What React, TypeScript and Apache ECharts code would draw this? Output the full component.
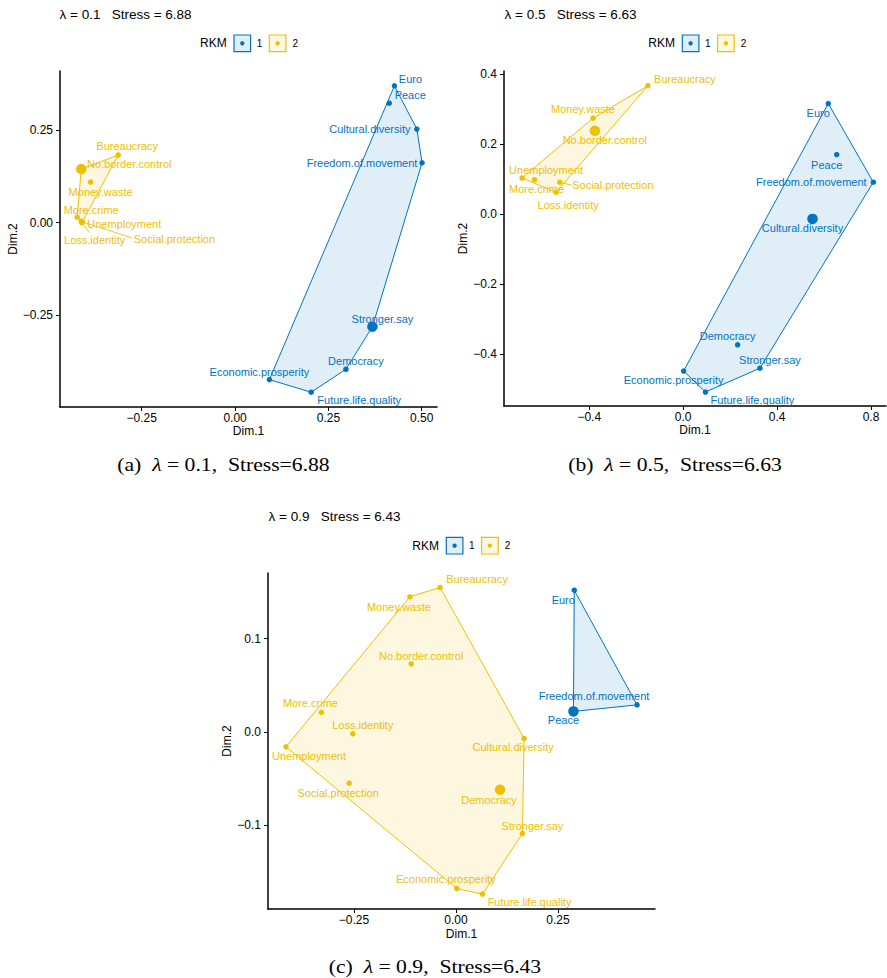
import React, { useEffect, useRef } from "react";
import * as echarts from "echarts";

const BLUE = "#0073C2";
const YELLOW = "#EFC000";
const BLUE_FILL = "rgba(0,115,194,0.12)";
const YELLOW_FILL = "rgba(239,192,0,0.12)";
const SANS = "'Liberation Sans', Arial, Helvetica, sans-serif";
const SERIF = "'Liberation Serif', 'Times New Roman', serif";

// ---- (a) lambda = 0.1 ----
const termsA1 = ["Euro", "Peace", "Cultural.diversity", "Freedom.of.movement", "Stronger.say", "Democracy", "Economic.prosperity", "Future.life.quality"];
const dim1A1 = [0.427, 0.413, 0.487, 0.501, 0.368, 0.297, 0.092, 0.204];
const dim2A1 = [0.370, 0.323, 0.253, 0.162, -0.281, -0.396, -0.424, -0.458];
const termsA2 = ["Bureaucracy", "No.border.control", "Money.waste", "More.crime", "Unemployment", "Loss.identity", "Social.protection"];
const dim1A2 = [-0.313, -0.412, -0.387, -0.423, -0.412, -0.411, -0.409];
const dim2A2 = [0.183, 0.145, 0.110, 0.015, 0.004, 0.000, 0.002];
const centreA1 = [0.368, -0.281];
const centreA2 = [-0.412, 0.145];
const xTicksA = [-0.25, 0, 0.25, 0.5];
const yTicksA = [-0.25, 0, 0.25];

// ---- (b) lambda = 0.5 ----
const termsB1 = ["Euro", "Peace", "Freedom.of.movement", "Cultural.diversity", "Democracy", "Stronger.say", "Economic.prosperity", "Future.life.quality"];
const dim1B1 = [0.618, 0.654, 0.810, 0.551, 0.232, 0.327, 0.002, 0.095];
const dim2B1 = [0.316, 0.170, 0.091, -0.014, -0.374, -0.441, -0.449, -0.509];
const termsB2 = ["Bureaucracy", "Money.waste", "No.border.control", "Unemployment", "More.crime", "Social.protection", "Loss.identity"];
const dim1B2 = [-0.150, -0.384, -0.376, -0.686, -0.633, -0.525, -0.541];
const dim2B2 = [0.367, 0.274, 0.238, 0.103, 0.098, 0.091, 0.062];
const centreB1 = [0.551, -0.014];
const centreB2 = [-0.376, 0.238];
const xTicksB = [-0.4, 0, 0.4, 0.8];
const yTicksB = [-0.4, -0.2, 0, 0.2, 0.4];

// ---- (c) lambda = 0.9 ----
const termsC1 = ["Euro", "Freedom.of.movement", "Peace"];
const dim1C1 = [0.290, 0.444, 0.288];
const dim2C1 = [0.152, 0.029, 0.022];
const termsC2 = ["Bureaucracy", "Money.waste", "No.border.control", "More.crime", "Loss.identity", "Unemployment", "Social.protection", "Cultural.diversity", "Democracy", "Stronger.say", "Economic.prosperity", "Future.life.quality"];
const dim1C2 = [-0.039, -0.113, -0.110, -0.330, -0.253, -0.417, -0.262, 0.167, 0.108, 0.163, 0.002, 0.065];
const dim2C2 = [0.155, 0.145, 0.073, 0.021, -0.002, -0.016, -0.055, -0.007, -0.062, -0.109, -0.168, -0.174];
const centreC1 = [0.288, 0.022];
const centreC2 = [0.108, -0.062];
const xTicksC = [-0.25, 0, 0.25];
const yTicksC = [-0.1, 0, 0.1];

const lambdas = ["0.1", "0.5", "0.9"];
const stresses = ["6.88", "6.63", "6.43"];
const panelTags = ["(a)", "(b)", "(c)"];

// Repelled label placement: [dx, dy] from the point in px, optional segment end [sx, sy]
type Lay = number[];
const labelLayout: Record<string, Lay>[] = [
  {
    Euro: [16, -7], Peace: [21, -8], "Cultural.diversity": [-47, 0], "Freedom.of.movement": [-60, 0],
    "Stronger.say": [10, -8], Democracy: [10, -8], "Economic.prosperity": [-10, -8], "Future.life.quality": [48, 8],
    Bureaucracy: [9, -9], "No.border.control": [48, -5], "Money.waste": [10, 10], "More.crime": [14, -7],
    Unemployment: [43, 3], "Loss.identity": [13, 17, 8, 10], "Social.protection": [92, 17, 50, 16],
  },
  {
    Euro: [-10, 9], Peace: [-10, 10], "Freedom.of.movement": [-62, 0], "Cultural.diversity": [-10, 9],
    Democracy: [-10, -9], "Stronger.say": [10, -8], "Economic.prosperity": [-10, 9], "Future.life.quality": [47, 8],
    Bureaucracy: [37, -7], "Money.waste": [-10, -9], "No.border.control": [10, 9], Unemployment: [24, -8],
    "More.crime": [2, 9], "Social.protection": [53, 3, 12, 3], "Loss.identity": [12, 13],
  },
  {
    Euro: [-11, 10], "Freedom.of.movement": [-43, -9], Peace: [-10, 9],
    Bureaucracy: [37, -8], "Money.waste": [-11, 10], "No.border.control": [10, -8], "More.crime": [-11, -9],
    "Loss.identity": [10, -9], Unemployment: [23, 9], "Social.protection": [-11, 10], "Cultural.diversity": [-11, 9],
    Democracy: [-11, 10], "Stronger.say": [10, -8], "Economic.prosperity": [-11, -9], "Future.life.quality": [47, 8],
  },
];

const panels = [
  {
    grid: { left: 60, top: 71, width: 377, height: 336 },
    x: [-0.469, 0.541], y: [-0.498, 0.41], xTicks: xTicksA, yTicks: yTicksA, xd: 2, yd: 2,
    yNameGap: 41, xNameGap: 18,
    c1: { terms: termsA1, d1: dim1A1, d2: dim2A1, centre: centreA1 },
    c2: { terms: termsA2, d1: dim1A2, d2: dim2A2, centre: centreA2 },
    title: [59.5, 14.5], legend: [200, 43.3], caption: [223.5, 464],
  },
  {
    grid: { left: 504, top: 71, width: 382, height: 335 },
    x: [-0.763, 0.864], y: [-0.549, 0.409], xTicks: xTicksB, yTicks: yTicksB, xd: 1, yd: 1,
    yNameGap: 33, xNameGap: 18,
    c1: { terms: termsB1, d1: dim1B1, d2: dim2B1, centre: centreB1 },
    c2: { terms: termsB2, d1: dim1B2, d2: dim2B2, centre: centreB2 },
    title: [504.5, 14.5], legend: [648.3, 43.3], caption: [675, 464],
  },
  {
    grid: { left: 268, top: 573, width: 387, height: 336 },
    x: [-0.461, 0.488], y: [-0.19, 0.1705], xTicks: xTicksC, yTicks: yTicksC, xd: 2, yd: 1,
    yNameGap: 34, xNameGap: 19,
    c1: { terms: termsC1, d1: dim1C1, d2: dim2C1, centre: centreC1 },
    c2: { terms: termsC2, d1: dim1C2, d2: dim2C2, centre: centreC2 },
    title: [268.5, 516], legend: [412.3, 545.7], caption: [435, 966],
  },
];

function fmt(v: number, d: number) {
  const s = Math.abs(v).toFixed(d);
  return v < -1e-9 ? "\u2212" + s : s;
}

// Convex hull (monotone chain) in data space
function convexHull(pts: number[][]) {
  const p = pts.slice().sort((a, b) => a[0] - b[0] || a[1] - b[1]);
  const cross = (o: number[], a: number[], b: number[]) =>
    (a[0] - o[0]) * (b[1] - o[1]) - (a[1] - o[1]) * (b[0] - o[0]);
  const lower: number[][] = [];
  for (const q of p) {
    while (lower.length >= 2 && cross(lower[lower.length - 2], lower[lower.length - 1], q) <= 0) lower.pop();
    lower.push(q);
  }
  const upper: number[][] = [];
  for (let i = p.length - 1; i >= 0; i--) {
    const q = p[i];
    while (upper.length >= 2 && cross(upper[upper.length - 2], upper[upper.length - 1], q) <= 0) upper.pop();
    upper.push(q);
  }
  upper.pop();
  lower.pop();
  return lower.concat(upper);
}

function axis(kind: "x" | "y", gi: number, pn: any) {
  const isX = kind === "x";
  const ticks = isX ? pn.xTicks : pn.yTicks;
  const d = isX ? pn.xd : pn.yd;
  const ext = isX ? pn.x : pn.y;
  return {
    type: "value",
    gridIndex: gi,
    min: ext[0],
    max: ext[1],
    name: isX ? "Dim.1" : "Dim.2",
    nameLocation: "middle",
    nameGap: isX ? pn.xNameGap : pn.yNameGap,
    nameTextStyle: { fontSize: 12, color: "#000", fontFamily: SANS },
    axisLine: { show: true, onZero: false, lineStyle: { color: "#000", width: 1.5 } },
    axisTick: { show: true, length: 4, customValues: ticks, lineStyle: { color: "#000", width: 1 } },
    axisLabel: {
      customValues: ticks,
      formatter: (v: number) => fmt(v, d),
      margin: isX ? 5 : 7,
      fontSize: 12,
      color: "#000",
      fontFamily: SANS,
    },
    splitLine: { show: false },
  };
}

function buildOption() {
  const grid: any[] = [];
  const xAxis: any[] = [];
  const yAxis: any[] = [];
  const series: any[] = [];
  const graphic: any[] = [];

  panels.forEach((pn, gi) => {
    grid.push({ ...pn.grid, containLabel: false });
    xAxis.push(axis("x", gi, pn));
    yAxis.push(axis("y", gi, pn));
    const lay = labelLayout[gi];

    [pn.c1, pn.c2].forEach((cl, ci) => {
      const color = ci === 0 ? BLUE : YELLOW;
      const fill = ci === 0 ? BLUE_FILL : YELLOW_FILL;
      const pts = cl.d1.map((v: number, i: number) => [v, cl.d2[i]]);
      const hull = convexHull(pts);

      series.push({
        type: "custom",
        xAxisIndex: gi,
        yAxisIndex: gi,
        z: 1,
        clip: false,
        silent: true,
        data: hull,
        renderItem: (params: any, api: any) => {
          if (params.dataIndex !== 0) return { type: "group", children: [] };
          const poly = hull.map((p) => api.coord(p));
          return {
            type: "polygon",
            shape: { points: poly },
            style: { fill, stroke: color, lineWidth: 1 },
          };
        },
      });

      series.push({
        type: "scatter",
        xAxisIndex: gi,
        yAxisIndex: gi,
        z: 2,
        symbol: "circle",
        symbolSize: 5.5,
        itemStyle: { color, opacity: 1 },
        silent: true,
        data: pts,
      });

      series.push({
        type: "scatter",
        xAxisIndex: gi,
        yAxisIndex: gi,
        z: 3,
        symbol: "circle",
        symbolSize: 10.5,
        itemStyle: { color, opacity: 1 },
        silent: true,
        data: [cl.centre],
      });

      series.push({
        type: "custom",
        xAxisIndex: gi,
        yAxisIndex: gi,
        z: 4,
        clip: false,
        silent: true,
        data: pts.map((p: number[], i: number) => ({ value: p, name: cl.terms[i] })),
        renderItem: (params: any, api: any) => {
          const name = cl.terms[params.dataIndex];
          const c = api.coord([api.value(0), api.value(1)]);
          const l = lay[name] || [0, -9];
          const children: any[] = [];
          if (l.length > 2) {
            children.push({
              type: "line",
              shape: { x1: c[0], y1: c[1], x2: c[0] + l[2], y2: c[1] + l[3] },
              style: { stroke: color, lineWidth: 0.9 },
            });
          }
          children.push({
            type: "text",
            x: c[0] + l[0],
            y: c[1] + l[1],
            style: {
              text: name,
              fill: color,
              fontSize: 11,
              fontFamily: SANS,
              align: "center",
              verticalAlign: "middle",
            },
          });
          return { type: "group", children };
        },
      });
    });

    // title
    graphic.push({
      type: "text",
      x: pn.title[0],
      y: pn.title[1],
      style: {
        text: `\u03bb = ${lambdas[gi]}   Stress = ${stresses[gi]}`,
        fill: "#000",
        fontSize: 13.5,
        fontFamily: SANS,
        align: "left",
        verticalAlign: "middle",
      },
    });

    // legend
    const [lx, ly] = pn.legend;
    graphic.push({
      type: "text",
      x: lx,
      y: ly,
      style: { text: "RKM", fill: "#000", fontSize: 12, fontFamily: SANS, align: "left", verticalAlign: "middle" },
    });
    [
      { dx: 34, color: BLUE, fill: BLUE_FILL, lab: "1", tx: 59.5 },
      { dx: 69.3, color: YELLOW, fill: YELLOW_FILL, lab: "2", tx: 95.3 },
    ].forEach((k) => {
      graphic.push({
        type: "rect",
        shape: { x: lx + k.dx, y: ly - 8.3, width: 16.6, height: 16.6 },
        style: { fill: k.fill, stroke: k.color, lineWidth: 1.2 },
      });
      graphic.push({
        type: "circle",
        shape: { cx: lx + k.dx + 8.3, cy: ly, r: 2.2 },
        style: { fill: k.color },
      });
      graphic.push({
        type: "text",
        x: lx + k.tx,
        y: ly,
        style: { text: k.lab, fill: "#000", fontSize: 10, fontFamily: SANS, align: "center", verticalAlign: "middle" },
      });
    });

    // caption (serif, italic lambda)
    graphic.push({
      type: "text",
      x: pn.caption[0],
      y: pn.caption[1],
      scaleX: 1.14,
      originX: 0,
      originY: 0,
      style: {
        text: `${panelTags[gi]}  {i|\u03bb} = ${lambdas[gi]},  Stress=${stresses[gi]}`,
        fill: "#000",
        fontSize: 19,
        fontFamily: SERIF,
        align: "center",
        verticalAlign: "middle",
        rich: {
          i: { fontStyle: "italic", fontSize: 19, fontFamily: SERIF, fill: "#000" },
        },
      },
    });
  });

  return {
    animation: false,
    backgroundColor: "#fff",
    grid,
    xAxis,
    yAxis,
    series,
    graphic,
  };
}

export default function App() {
  const ref = useRef<HTMLDivElement>(null);
  useEffect(() => {
    if (!ref.current) return;
    const chart = echarts.init(ref.current, null, { renderer: "svg", width: 887, height: 978 });
    chart.setOption(buildOption() as any);
    return () => chart.dispose();
  }, []);
  return (
    <div
      ref={ref}
      style={{ position: "absolute", left: 0, top: 0, width: 887, height: 978, background: "#fff" }}
    />
  );
}
